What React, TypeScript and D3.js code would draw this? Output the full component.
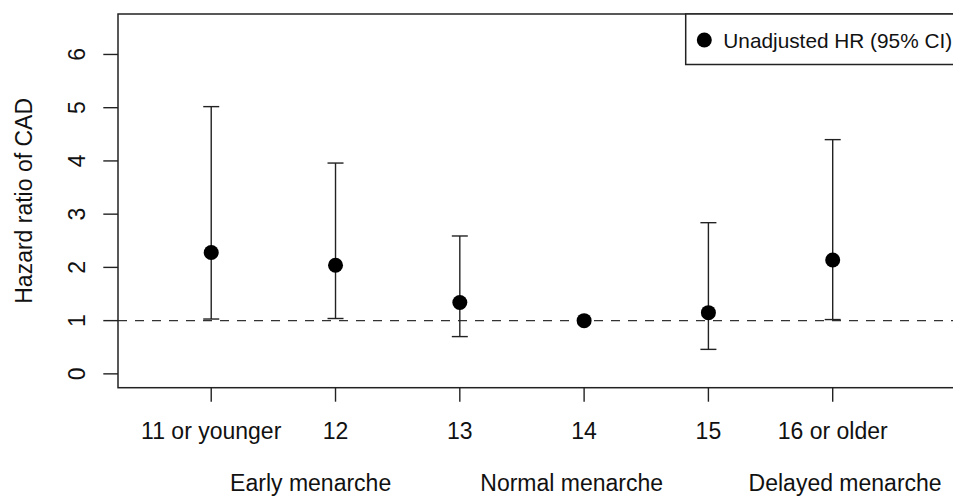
import { useEffect, useRef } from "react";
import * as d3 from "d3";

const categories = ["11 or younger", "12", "13", "14", "15", "16 or older"];
const hazardRatio = [2.28, 2.04, 1.34, 1.0, 1.15, 2.14];
const ciLower = [1.03, 1.04, 0.7, null, 0.46, 1.02];
const ciUpper = [5.02, 3.96, 2.59, null, 2.84, 4.4];
const yTicks = [0, 1, 2, 3, 4, 5, 6];
const groupLabels = ["Early menarche", "Normal menarche", "Delayed menarche"];
const groupAt = [1.8, 3.9, 6.1];
const legendLabel = "Unadjusted HR (95% CI)";
const refLine = 1;

export default function App() {
  const svgRef = useRef<SVGSVGElement>(null);
  const width = 953;
  const height = 497;

  useEffect(() => {
    const font = "'Liberation Sans', Arial, Helvetica, sans-serif";
    const plot = { left: 118, right: 957, top: 14, bottom: 387.7 };

    const svg = d3.select(svgRef.current).attr("width", width).attr("height", height);
    svg.selectAll("*").remove();

    // R-style axes: 4% padding around xlim / ylim
    const x = d3.scaleLinear().domain([0.25, 7]).range([plot.left, plot.right]);
    const y = d3.scaleLinear().domain([-0.26, 6.76]).range([plot.bottom, plot.top]);

    svg
      .append("defs")
      .append("clipPath")
      .attr("id", "plot-clip")
      .append("rect")
      .attr("x", plot.left)
      .attr("y", plot.top)
      .attr("width", plot.right - plot.left)
      .attr("height", plot.bottom - plot.top);

    // reference line at HR = 1
    svg
      .append("line")
      .attr("clip-path", "url(#plot-clip)")
      .attr("x1", plot.left)
      .attr("x2", plot.right)
      .attr("y1", y(refLine))
      .attr("y2", y(refLine))
      .attr("stroke", "#333")
      .attr("stroke-width", 1.4)
      .attr("stroke-dasharray", "9 8");

    const rows = categories.map((c, i) => ({
      label: c,
      pos: i + 1,
      hr: hazardRatio[i],
      lo: ciLower[i],
      hi: ciUpper[i],
    }));
    const withCi = rows.filter((d) => d.lo != null && d.hi != null);
    const capW = 8;

    const bars = svg.append("g").attr("stroke", "#222").attr("stroke-width", 1.4);
    bars
      .selectAll(".ci")
      .data(withCi)
      .enter()
      .append("line")
      .attr("x1", (d) => x(d.pos))
      .attr("x2", (d) => x(d.pos))
      .attr("y1", (d) => y(d.lo as number))
      .attr("y2", (d) => y(d.hi as number));
    bars
      .selectAll(".cap-hi")
      .data(withCi)
      .enter()
      .append("line")
      .attr("x1", (d) => x(d.pos) - capW)
      .attr("x2", (d) => x(d.pos) + capW)
      .attr("y1", (d) => y(d.hi as number))
      .attr("y2", (d) => y(d.hi as number));
    bars
      .selectAll(".cap-lo")
      .data(withCi)
      .enter()
      .append("line")
      .attr("x1", (d) => x(d.pos) - capW)
      .attr("x2", (d) => x(d.pos) + capW)
      .attr("y1", (d) => y(d.lo as number))
      .attr("y2", (d) => y(d.lo as number));

    svg
      .selectAll(".pt")
      .data(rows)
      .enter()
      .append("circle")
      .attr("cx", (d) => x(d.pos))
      .attr("cy", (d) => y(d.hr))
      .attr("r", 7.5)
      .attr("fill", "#000");

    // plot box
    svg
      .append("rect")
      .attr("x", plot.left)
      .attr("y", plot.top)
      .attr("width", plot.right - plot.left)
      .attr("height", plot.bottom - plot.top)
      .attr("fill", "none")
      .attr("stroke", "#222")
      .attr("stroke-width", 1.5);

    // y axis
    const yAxis = svg.append("g");
    yAxis
      .selectAll(".ytick")
      .data(yTicks)
      .enter()
      .append("line")
      .attr("x1", plot.left - 14.7)
      .attr("x2", plot.left)
      .attr("y1", (d) => y(d))
      .attr("y2", (d) => y(d))
      .attr("stroke", "#222")
      .attr("stroke-width", 1.4);
    yAxis
      .selectAll(".ylab")
      .data(yTicks)
      .enter()
      .append("text")
      .attr("transform", (d) => `translate(85,${y(d)}) rotate(-90)`)
      .attr("text-anchor", "middle")
      .attr("font-family", font)
      .attr("font-size", 23)
      .attr("fill", "#111")
      .text((d) => d);

    svg
      .append("text")
      .attr("transform", `translate(32,${(plot.top + plot.bottom) / 2}) rotate(-90)`)
      .attr("text-anchor", "middle")
      .attr("font-family", font)
      .attr("font-size", 23)
      .attr("fill", "#111")
      .text("Hazard ratio of CAD");

    // x axis
    const xAxis = svg.append("g");
    xAxis
      .selectAll(".xtick")
      .data(rows)
      .enter()
      .append("line")
      .attr("x1", (d) => x(d.pos))
      .attr("x2", (d) => x(d.pos))
      .attr("y1", plot.bottom)
      .attr("y2", plot.bottom + 14)
      .attr("stroke", "#222")
      .attr("stroke-width", 1.4);
    xAxis
      .selectAll(".xlab")
      .data(rows)
      .enter()
      .append("text")
      .attr("x", (d) => x(d.pos))
      .attr("y", 438.5)
      .attr("text-anchor", "middle")
      .attr("font-family", font)
      .attr("font-size", 23)
      .attr("fill", "#111")
      .text((d) => d.label);

    svg
      .selectAll(".group")
      .data(groupLabels)
      .enter()
      .append("text")
      .attr("x", (_d, i) => x(groupAt[i]))
      .attr("y", 491)
      .attr("text-anchor", "middle")
      .attr("font-family", font)
      .attr("font-size", 23)
      .attr("fill", "#111")
      .text((d) => d);

    // legend (runs off the right edge like the original)
    const legend = svg.append("g");
    legend
      .append("rect")
      .attr("x", 685.7)
      .attr("y", plot.top)
      .attr("width", 320)
      .attr("height", 50.5)
      .attr("fill", "#fff")
      .attr("stroke", "#222")
      .attr("stroke-width", 1.5);
    legend
      .append("circle")
      .attr("cx", 704.3)
      .attr("cy", 40)
      .attr("r", 7.5)
      .attr("fill", "#000");
    legend
      .append("text")
      .attr("x", 723.3)
      .attr("y", 47.5)
      .attr("font-family", font)
      .attr("font-size", 20.8)
      .attr("fill", "#111")
      .text(legendLabel);
  }, []);

  return (
    <div style={{ position: "absolute", left: 0, top: 0, width, height, overflow: "hidden", background: "#fff" }}>
      <svg ref={svgRef} style={{ display: "block" }}></svg>
    </div>
  );
}
